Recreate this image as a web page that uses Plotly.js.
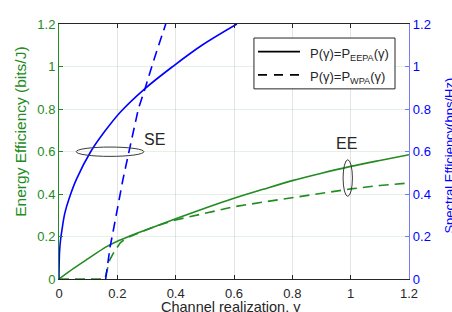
<!DOCTYPE html>
<html>
<head>
<meta charset="utf-8">
<script src="https://cdn.plot.ly/plotly-3.0.1.min.js"></script>
<style>html,body{margin:0;padding:0;background:#fff;}#chart{width:452px;height:312px;}</style>
</head>
<body>
<div id="chart"></div>
<script>
// Data
const seEepaX = [0, 0.0005, 0.002, 0.005, 0.01, 0.02, 0.035, 0.06, 0.109, 0.157, 0.21, 0.294, 0.39, 0.49, 0.61];
const seEepaY = [0, 0.07, 0.13, 0.18, 0.23, 0.31, 0.38, 0.47, 0.60, 0.695, 0.785, 0.895, 1.0, 1.1, 1.2];

const seWpaX = [0.16, 0.164, 0.168, 0.175, 0.185, 0.197, 0.219, 0.24, 0.272, 0.296, 0.325, 0.366];
const seWpaY = [0, 0.04, 0.09, 0.15, 0.22, 0.31, 0.467, 0.6, 0.8, 0.9, 1.03, 1.2];

const eeEepaX = [0, 0.05, 0.1, 0.16, 0.2, 0.3, 0.4, 0.5, 0.6, 0.7, 0.8, 0.9, 1.0, 1.1, 1.2];
const eeEepaY = [0, 0.05, 0.096, 0.15, 0.178, 0.232, 0.283, 0.333, 0.38, 0.422, 0.463, 0.498, 0.53, 0.558, 0.585];

const eeWpaX = [0, 0.157, 0.174, 0.19, 0.21, 0.231, 0.3, 0.35, 0.4, 0.5, 0.6, 0.7, 0.8, 0.9, 1.0, 1.1, 1.2];
const eeWpaY = [0, 0, 0.09, 0.13, 0.17, 0.193, 0.232, 0.257, 0.278, 0.31, 0.34, 0.362, 0.383, 0.404, 0.424, 0.44, 0.452];

const legendLabels = ['P(γ)=P<sub>EEPA</sub>(γ)', 'P(γ)=P<sub>WPA</sub>(γ)'];
const tickVals = [0, 0.2, 0.4, 0.6, 0.8, 1, 1.2];
const tickText = ['0', '0.2', '0.4', '0.6', '0.8', '1', '1.2'];

const GREEN = 'rgb(34,139,34)';
const BLUE = '#0000ff';
const DARK = '#262626';
const DASH = '10px,6px';
const FONT = 'Liberation Sans, Arial, Helvetica, sans-serif';

const traces = [
  {x: seEepaX, y: seEepaY, yaxis: 'y2', mode: 'lines', line: {color: BLUE, width: 1.6, shape: 'spline', smoothing: 1}, showlegend: false, hoverinfo: 'skip'},
  {x: seWpaX, y: seWpaY, yaxis: 'y2', mode: 'lines', line: {color: BLUE, width: 1.6, dash: DASH}, showlegend: false, hoverinfo: 'skip'},
  {x: eeEepaX, y: eeEepaY, mode: 'lines', line: {color: GREEN, width: 1.6, shape: 'spline', smoothing: 0.8}, showlegend: false, hoverinfo: 'skip'},
  {x: eeWpaX, y: eeWpaY, mode: 'lines', line: {color: GREEN, width: 1.6, dash: DASH}, showlegend: false, hoverinfo: 'skip'}
];

// legend geometry in paper coordinates
const lgY1 = 0.8916, lgY2 = 0.8004;
const layout = {
  width: 452, height: 312,
  margin: {l: 59, r: 43, t: 24, b: 32.5, pad: 0},
  paper_bgcolor: '#fff', plot_bgcolor: '#fff',
  font: {family: FONT, size: 13, color: DARK},
  showlegend: false,
  xaxis: {
    range: [0, 1.2], tickvals: tickVals, ticktext: tickText,
    ticks: 'inside', ticklen: 4, tickcolor: DARK, tickwidth: 1,
    showline: true, linecolor: DARK, linewidth: 1, mirror: 'ticks',
    showgrid: true, gridcolor: '#e4e4e4', gridwidth: 1, zeroline: false,
    ticklabelstandoff: 2,
    tickfont: {family: FONT, size: 13, color: DARK}
  },
  yaxis: {
    range: [0, 1.2], tickvals: tickVals, ticktext: tickText,
    ticks: 'inside', ticklen: 4, tickcolor: GREEN, tickwidth: 1,
    showline: true, linecolor: GREEN, linewidth: 1,
    showgrid: true, gridcolor: 'rgba(34,139,34,0.12)', gridwidth: 1, zeroline: false,
    tickfont: {family: FONT, size: 13, color: GREEN}
  },
  yaxis2: {
    range: [0, 1.2], tickvals: tickVals, ticktext: tickText,
    overlaying: 'y', side: 'right',
    ticks: 'inside', ticklen: 4, tickcolor: '#7a7aff', tickwidth: 1,
    showline: true, linecolor: '#7a7aff', linewidth: 1.2,
    showgrid: false, zeroline: false,
    tickfont: {family: FONT, size: 13, color: BLUE}
  },
  shapes: [
    {type: 'circle', xref: 'x', yref: 'y', x0: 0.059, x1: 0.291, y0: 0.577, y1: 0.621, line: {color: '#3a3a3a', width: 1}, layer: 'above'},
    {type: 'circle', xref: 'x', yref: 'y', x0: 0.974, x1: 1.006, y0: 0.389, y1: 0.561, line: {color: '#3a3a3a', width: 1}, layer: 'above'},
    {type: 'rect', xref: 'paper', yref: 'paper', x0: 0.557, x1: 0.96, y0: 0.7456, y1: 0.945, line: {color: DARK, width: 1}, fillcolor: '#fff', layer: 'above'},
    {type: 'line', xref: 'paper', yref: 'paper', x0: 0.5686, x1: 0.6886, y0: lgY1, y1: lgY1, line: {color: '#000', width: 1.6}, layer: 'above'},
    {type: 'line', xref: 'paper', yref: 'paper', x0: 0.5686, x1: 0.6886, y0: lgY2, y1: lgY2, line: {color: '#000', width: 1.6, dash: '9px,7px'}, layer: 'above'}
  ],
  annotations: [
    {text: legendLabels[0], xref: 'paper', yref: 'paper', x: 0.7114, y: lgY1 - 0.012, xanchor: 'left', yanchor: 'middle', showarrow: false, font: {family: FONT, size: 13, color: DARK}},
    {text: legendLabels[1], xref: 'paper', yref: 'paper', x: 0.7114, y: lgY2 - 0.012, xanchor: 'left', yanchor: 'middle', showarrow: false, font: {family: FONT, size: 13, color: DARK}},
    {text: 'SE', xref: 'x', yref: 'y', x: 0.329, y: 0.656, showarrow: false, font: {family: FONT, size: 16, color: DARK}},
    {text: 'EE', xref: 'x', yref: 'y', x: 0.986, y: 0.636, showarrow: false, font: {family: FONT, size: 16, color: DARK}},
    {text: 'Channel realization, γ', xref: 'paper', yref: 'paper', x: 0.491, y: -0.11, xanchor: 'center', yanchor: 'middle', showarrow: false, font: {family: FONT, size: 14.5, color: DARK}},
    {text: 'Energy Efficiency (bits/J)', xref: 'paper', yref: 'paper', x: -0.109, y: 0.577, xanchor: 'center', yanchor: 'middle', textangle: -90, showarrow: false, font: {family: FONT, size: 15.5, color: GREEN}},
    {text: 'Spectral Efficiency(bps/Hz)', xref: 'paper', yref: 'paper', x: 1.115, y: 0.485, xanchor: 'center', yanchor: 'middle', textangle: -90, showarrow: false, font: {family: FONT, size: 13, color: BLUE}}
  ]
};

Plotly.newPlot('chart', traces, layout, {staticPlot: true, displayModeBar: false});
</script>
</body>
</html>
